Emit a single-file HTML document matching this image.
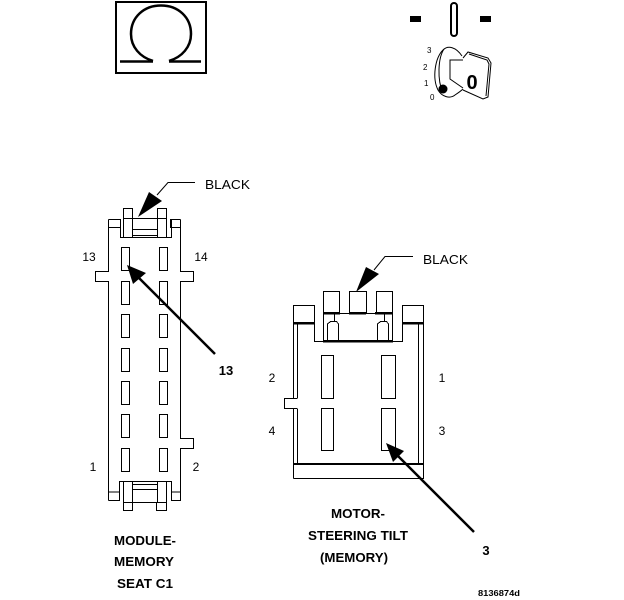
<!DOCTYPE html>
<html><head><meta charset="utf-8"><style>
html,body{margin:0;padding:0;background:#fff;width:624px;height:600px;overflow:hidden}
svg{display:block}
text{font-family:"Liberation Sans",sans-serif;fill:#000}
.b{font-weight:bold;font-size:13px;text-anchor:middle}
.n{font-size:12px}
.l{fill:none;stroke:#000;stroke-width:1}
</style></head><body>
<svg width="624" height="600" viewBox="0 0 624 600" xmlns="http://www.w3.org/2000/svg">
<!-- omega -->
<rect x="116" y="2" width="90" height="71" fill="none" stroke="#000" stroke-width="2"/>
<path d="M153 61 C140 57 131 47 131 34 C131 17 144 5.500 161 5.500 C178 5.500 191 17 191 34 C191 47 182 57 169 61" fill="none" stroke="#000" stroke-width="2.500"/>
<path d="M120 61.500H153M169 61.500H201" stroke="#000" stroke-width="2.500" fill="none"/>
<!-- key -->
<rect x="410" y="16" width="11" height="6"/><rect x="480" y="16" width="11" height="6"/>
<rect x="451" y="3" width="6" height="33" rx="3" fill="none" stroke="#000" stroke-width="2"/>
<path class="l" d="M462 56 C456 47 448 45 443 50 C435 58 432 78 438 90 C442 97 450 99 455 95 C458 93 461 91 463 89"/>
<path class="l" d="M444 49 C438 58 437 80 443 93"/>
<path class="l" d="M463 60H450V79L463 88"/>
<path class="l" d="M463 58L468 52L488 58L491 63L488 97L483 99L463 90"/>
<path class="l" d="M469 54L487 60L489 64L486 96"/>
<circle cx="443" cy="89" r="4.500"/>
<text x="472" y="89" font-size="20" font-weight="bold" text-anchor="middle">0</text>
<text x="427" y="53" font-size="8">3</text>
<text x="423" y="70" font-size="8">2</text>
<text x="424" y="86" font-size="8">1</text>
<text x="430" y="100" font-size="8">0</text>
<!-- left connector -->
<g class="l" shape-rendering="crispEdges">
<path d="M108.500 219.500V271.500H95.500V281.500H108.500V500.500"/>
<path d="M180.500 219.500V271.500H193.500V281.500H180.500V438.500H193.500V448.500H180.500V500.500"/>
<path d="M108.500 219.500H120.500V227.500H108.500M180.500 219.500H170.500V227.500H180.500"/>
<path d="M120.500 219.500V237.500H171.500V219.500"/>
<path d="M123.500 218.500V208.500H132.500V237.500M123.500 218.500V237.500"/>
<path d="M157.500 237.500V208.500H166.500V237.500"/>
<path d="M123.500 218.500H166.500M132.500 229.500H157.500M132.500 235.500H157.500"/>
<path d="M121.500 247.500h8v23h-8zM159.500 247.500h8v23h-8zM121.500 281.500h8v23h-8zM159.500 281.500h8v23h-8zM121.500 314.500h8v23h-8zM159.500 314.500h8v23h-8zM121.500 348.500h8v23h-8zM159.500 348.500h8v23h-8zM121.500 381.500h8v23h-8zM159.500 381.500h8v23h-8zM121.500 414.500h8v23h-8zM159.500 414.500h8v23h-8zM121.500 448.500h8v23h-8zM159.500 448.500h8v23h-8z"/>
<path d="M108.500 492H119.500V481.500H171.500V500.500H181M108.500 500.500H119.500V492M171.500 492H180.500"/>
<path d="M123.500 481.500V502.500M132.500 481.500V502.500M157.500 481.500V502.500M166.500 481.500V502.500"/>
<path d="M132.500 484.500H157.500M132.500 489.500H157.500M123.500 502.500H166.500"/>
<path d="M123.500 502.500V510.500H132.500V502.500M156.500 502.500V510.500H166.500V502.500"/>
</g>
<!-- left black arrow -->
<polygon points="138,217 149,192 162,201"/>
<path class="l" d="M157 195L168 182.500H195"/>
<text x="205" y="189" font-size="12.500" textLength="45" lengthAdjust="spacingAndGlyphs">BLACK</text>
<!-- left pin arrow -->
<polygon points="127,265 146,273 133,284"/>
<line x1="137" y1="276" x2="215" y2="354" stroke="#000" stroke-width="2.500"/>
<text x="89" y="261" class="n" text-anchor="middle">13</text>
<text x="201" y="261" class="n" text-anchor="middle">14</text>
<text x="93" y="471" class="n" text-anchor="middle">1</text>
<text x="196" y="471" class="n" text-anchor="middle">2</text>
<text x="226" y="375" class="b">13</text>
<text x="145" y="545" class="b" textLength="62" lengthAdjust="spacingAndGlyphs">MODULE-</text>
<text x="144" y="566" class="b" textLength="60" lengthAdjust="spacingAndGlyphs">MEMORY</text>
<text x="145" y="588" class="b" textLength="56" lengthAdjust="spacingAndGlyphs">SEAT C1</text>
<!-- right connector -->
<g class="l" shape-rendering="crispEdges">
<path d="M323.500 313V291.500H339.500V313M349.500 313V291.500H366.500V313M376.500 313V291.500H392.500V313"/>
<path d="M339 313.500H376"/>
<path d="M293.500 323V305.500H314.500V323M402.500 323V305.500H423.500V323"/>
<path d="M314.500 323V341.500H323.500V313M402.500 323V341.500H392.500V313"/>
<path d="M327.500 341V324L330.500 321.500H336.500L338.500 324V341M377.500 341V324L380.500 321.500H386.500L388.500 324V341"/>
<path d="M334.500 313V321M384.500 313V321"/>
<path d="M293.500 323V398.500H284.500V408.500H293.500V478.500M297.500 323V398.500M297.500 408.500V464"/>
<path d="M418.500 323V464M423.500 323V478.500H293.500"/>
<path d="M297 398.500H293M297 408.500H293"/>
<path d="M321.500 355.500h12v43h-12zM381.500 355.500h14v43h-14zM321.500 408.500h12v42h-12zM381.500 408.500h14v42h-14z"/>
</g>
<rect x="323" y="312" width="17" height="2.500"/><rect x="349" y="312" width="17" height="2.500"/><rect x="375" y="312" width="18" height="2.500"/>
<rect x="294" y="322" width="21" height="2.500"/><rect x="402" y="322" width="21" height="2.500"/>
<rect x="323" y="340" width="70" height="2.500"/>
<rect x="293" y="463" width="130" height="2"/>
<!-- right black arrow -->
<polygon points="356,292 366,267 379,274"/>
<path class="l" d="M374 270L385 256.500H413"/>
<text x="423" y="264" font-size="12.500" textLength="45" lengthAdjust="spacingAndGlyphs">BLACK</text>
<!-- right pin arrow -->
<polygon points="386,443 404,451 393,462"/>
<line x1="396" y1="454" x2="474" y2="532" stroke="#000" stroke-width="2.500"/>
<text x="272" y="382" class="n" text-anchor="middle">2</text>
<text x="272" y="435" class="n" text-anchor="middle">4</text>
<text x="442" y="382" class="n" text-anchor="middle">1</text>
<text x="442" y="435" class="n" text-anchor="middle">3</text>
<text x="486" y="555" class="b">3</text>
<text x="358" y="518" class="b" textLength="54" lengthAdjust="spacingAndGlyphs">MOTOR-</text>
<text x="358" y="540" class="b" textLength="100" lengthAdjust="spacingAndGlyphs">STEERING TILT</text>
<text x="354" y="562" class="b" textLength="68" lengthAdjust="spacingAndGlyphs">(MEMORY)</text>
<text x="478" y="596" font-size="8" font-weight="bold" textLength="42" lengthAdjust="spacingAndGlyphs">8136874d</text>
</svg>
</body></html>
